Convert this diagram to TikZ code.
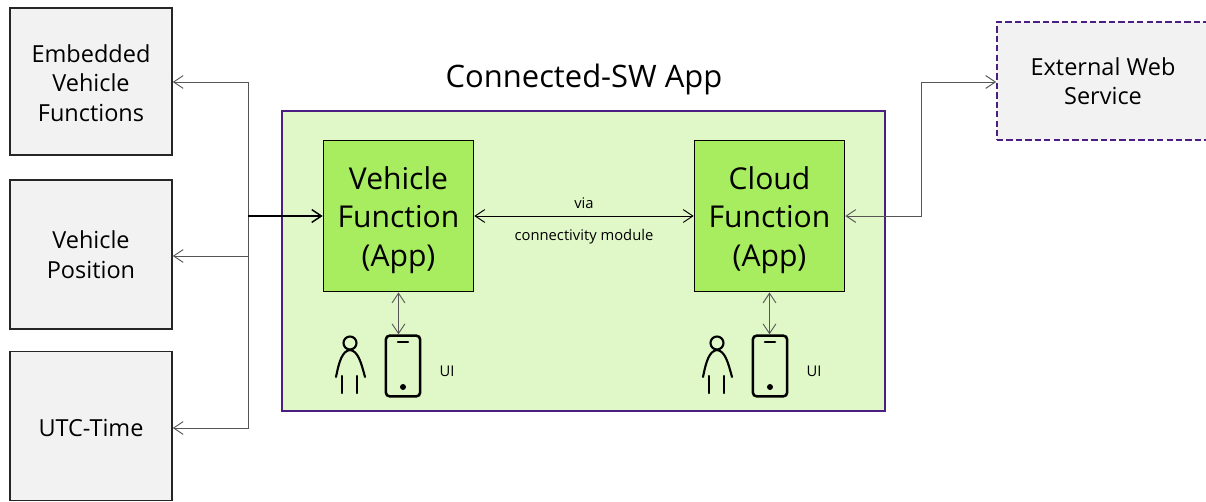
\documentclass[tikz,border=0pt]{standalone}
\usepackage{fontspec}
\setmainfont{Open Sans}
\usetikzlibrary{arrows.meta}
\definecolor{frame}{HTML}{4B1E82}
\definecolor{appgreen}{HTML}{E0F8C8}
\definecolor{funcgreen}{HTML}{A8EC60}
\definecolor{boxgray}{HTML}{F2F2F2}
\definecolor{wire}{HTML}{555555}
\tikzset{
    inbox/.style={draw=black!85,line width=1.1pt,fill=boxgray,align=center,font=\fontsize{16.7}{21}\selectfont,minimum width=4.05cm},
    func/.style={draw=black,line width=1.2pt,fill=funcgreen,align=center,font=\fontsize{21.4}{27.6}\selectfont,minimum width=3.75cm,minimum height=3.78cm},
    wire/.style={draw=wire,line width=0.65pt,>={Straight Barb[length=2.4mm,width=3.2mm]}},
    phone/.style={draw=black,line width=1.8pt,rounded corners=1mm,minimum width=0.86cm,minimum height=1.52cm},
    small/.style={font=\fontsize{10.5}{12}\selectfont}
}
\begin{document}
\begin{tikzpicture}[x=0.025cm,y=-0.025cm]
    \useasboundingbox (0,0) rectangle (1206,501);
    % outer boxes
    \node[inbox,minimum height=3.67cm] (embedded) at (91,81.5) {\strut Embedded\\Vehicle\\Functions};
    \node[inbox,minimum height=3.72cm] (position) at (91,254.5) {Vehicle\\Position};
    \node[inbox,minimum height=3.72cm] (utc) at (91,426) {\rule{0pt}{15pt}UTC-Time};
    \node[inbox,draw=frame,dash pattern=on 4.5pt off 2.2pt,line width=1.2pt,minimum width=5.3cm,minimum height=2.95cm] (web) at (1103,81) {External Web\\Service};
    % the app
    \node[font=\fontsize{22}{26}\selectfont] (title) at (584,79) {Connected-SW App};
    \node[draw=frame,line width=1.2pt,fill=appgreen,minimum width=15.07cm,minimum height=7.5cm] (app) at (583.5,261) {};
    \node[func] (vehicle) at (398.5,216) {\rule{0pt}{22pt}Vehicle\\Function\\(App)};
    \node[func] (cloud) at (769.5,216) {\rule{0pt}{22pt}Cloud\\Function\\(App)};
    \node[phone] (phoneA) at (403,366) {};
    \node[phone] (phoneB) at (770,366) {};
    \fill (403,387) circle (3);
    \fill (770,387) circle (3);
    \draw[line width=1.8pt,line cap=round] (398,342) -- (408,342) (765,342) -- (775,342);
    \node[small] (uiA) at (447,371) {UI};
    \node[small] (uiB) at (814,371) {UI};
    \node[small] (via) at (584,203) {via};
    \node[small] (module) at (584,237) {connectivity module};
    % persons
    \foreach \px/\name in {350/personA,717/personB}{
        \draw[line width=1.5pt] (\px,343) circle (6.5);
        \draw[line width=1.5pt,line cap=round] (\px-14,377) .. controls (\px-11,362) and (\px-8,351) .. (\px,350) .. controls (\px+8,351) and (\px+11,362) .. (\px+15,377);
        \draw[line width=1.5pt,line cap=round] (\px-8,376) -- (\px-8,393) (\px+7,376) -- (\px+7,393);
    }
    % connectors
    \coordinate (hub) at (248,216);
    \coordinate (hubTop) at (248,82);
    \coordinate (hubMid) at (248,256);
    \coordinate (hubLow) at (248,428);
    \coordinate (bendA) at (921,216);
    \coordinate (bendB) at (921,82);
    \draw[wire,->] (hub) -- (hubTop) -- (embedded.east |- hubTop);
    \draw[wire,->] (hubMid) -- (position.east |- hubMid);
    \draw[wire,->] (hub) -- (hubLow) -- (utc.east |- hubLow);
    \draw[wire,draw=black,line width=1pt,->] (hub) -- (vehicle.west);
    \draw[wire,black,<->] (vehicle.east) -- (cloud.west);
    \draw[wire,<->] (cloud.east) -- (bendA) -- (bendB) -- (web.west |- bendB);
    \draw[wire,<->] (vehicle.south) -- (vehicle.south |- phoneA.north);
    \draw[wire,<->] (cloud.south) -- (cloud.south |- phoneB.north);
\end{tikzpicture}
\end{document}
